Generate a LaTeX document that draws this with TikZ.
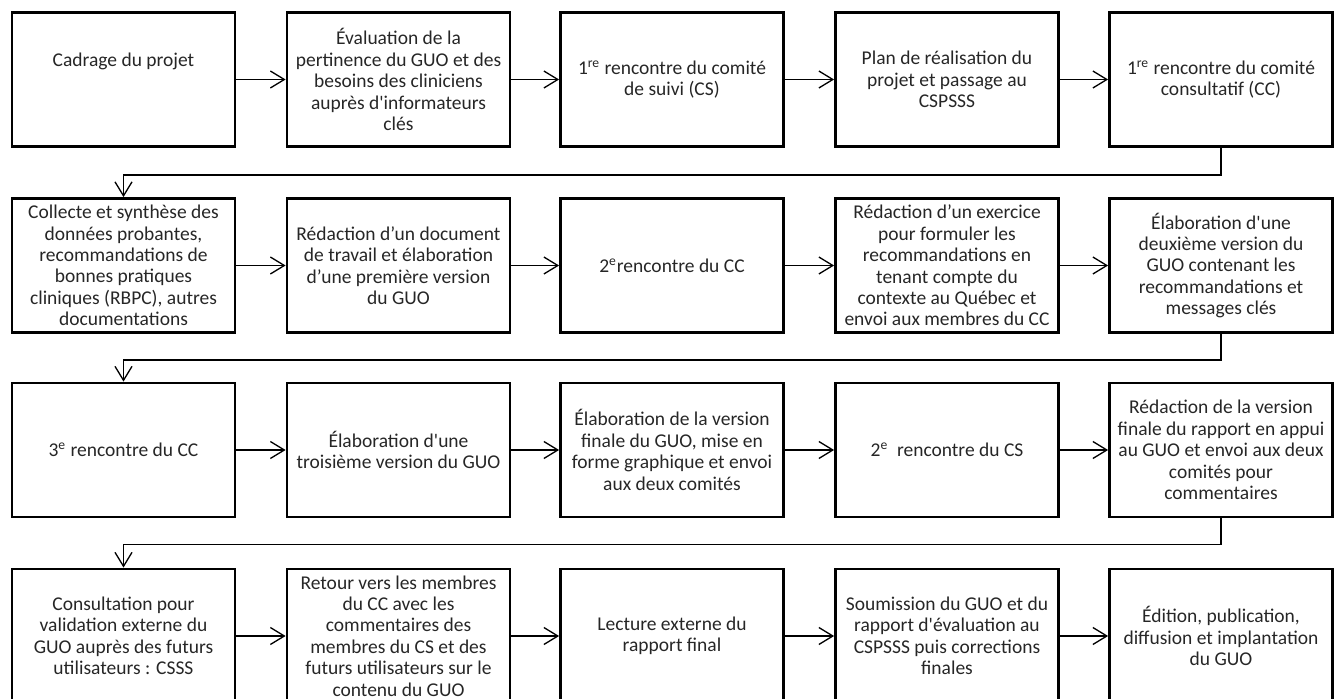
\documentclass[tikz,border=0pt]{standalone}
\usepackage{fontspec}
\setmainfont{Carlito}
\usetikzlibrary{arrows.meta}

\begin{document}
\begin{tikzpicture}[x=0.02cm,y=-0.02cm,
  etape/.style={draw,line width=1.6pt,minimum width=4.46cm,minimum height=2.68cm,
    align=center,inner sep=2pt,text=black!85,
    font=\fontsize{11.1}{12.2}\selectfont},
  fleche/.style={line width=0.75pt,-{Straight Barb[length=2.8mm,width=3.4mm,line width=0.75pt]}}]
  \useasboundingbox (0,0) rectangle (1335,699);

  \draw(123.5,79.5) node[etape] (A1) {Cadrage du projet\\[6.6pt]\strut};
  \draw(398.5,79.5) node[etape] (A2) {Évaluation de la\\ pertinence du GUO et des\\ besoins des cliniciens\\ auprès d\textquotesingle informateurs\\ clés};
  \draw(672,79.5) node[etape] (A3) {1\textsuperscript{re} rencontre du comité\\ de suivi (CS)};
  \draw(947,79.5) node[etape] (A4) {Plan de réalisation du\\ projet et passage au\\ CSPSSS};
  \draw(1221,79.5) node[etape] (A5) {1\textsuperscript{re} rencontre du comité\\ consultatif (CC)};

  \draw(123.5,265.5) node[etape] (B1) {Collecte et synthèse des\\ données probantes,\\ recommandations de\\ bonnes pratiques\\ cliniques (RBPC), autres\\ documentations};
  \draw(398.5,265.5) node[etape] (B2) {Rédaction d’un document\\ de travail et élaboration\\ d’une première version\\ du GUO};
  \draw(672,265.5) node[etape] (B3) {2\textsuperscript{e}rencontre du CC};
  \draw(947,265.5) node[etape] (B4) {Rédaction d’un exercice\\ pour formuler les\\ recommandations en\\ tenant compte du\\ contexte au Québec et\\ envoi aux membres du CC};
  \draw(1221,265.5) node[etape] (B5) {Élaboration d\textquotesingle une\\ deuxième version du\\ GUO contenant les\\ recommandations et\\ messages clés};

  \draw(123.5,450) node[etape] (C1) {3\textsuperscript{e} rencontre du CC};
  \draw(398.5,450) node[etape] (C2) {Élaboration d\textquotesingle une\\ troisième version du GUO};
  \draw(672,450) node[etape] (C3) {Élaboration de la version\\ finale du GUO, mise en\\ forme graphique et envoi\\ aux deux comités};
  \draw(947,450) node[etape] (C4) {2\textsuperscript{e}\ \ rencontre du CS};
  \draw(1221,450) node[etape] (C5) {Rédaction de la version\\ finale du rapport en appui\\ au GUO et envoi aux deux\\ comités pour\\ commentaires};

  \draw(123.5,636) node[etape] (D1) {Consultation pour\\ validation externe du\\ GUO auprès des futurs\\ utilisateurs : CSSS};
  \draw(398.5,636) node[etape] (D2) {Retour vers les membres\\ du CC avec les\\ commentaires des\\ membres du CS et des\\ futurs utilisateurs sur le\\ contenu du GUO};
  \draw(672,636) node[etape] (D3) {Lecture externe du\\ rapport final};
  \draw(947,636) node[etape] (D4) {Soumission du GUO et du\\ rapport d\textquotesingle évaluation au\\ CSPSSS puis corrections\\ finales};
  \draw(1221,636) node[etape] (D5) {Édition, publication,\\ diffusion et implantation\\ du GUO};

  \draw[fleche] (A1) -- (A2);
  \draw[fleche] (A2) -- (A3);
  \draw[fleche] (A3) -- (A4);
  \draw[fleche] (A4) -- (A5);
  \draw[fleche] (A5.south) -- ++(0,27) -| (B1.north);

  \draw[fleche] (B1) -- (B2);
  \draw[fleche] (B2) -- (B3);
  \draw[fleche] (B3) -- (B4);
  \draw[fleche] (B4) -- (B5);
  \draw[fleche] (B5.south) -- ++(0,26) -| (C1.north);

  \draw[fleche] (C1) -- (C2);
  \draw[fleche] (C2) -- (C3);
  \draw[fleche] (C3) -- (C4);
  \draw[fleche] (C4) -- (C5);
  \draw[fleche] (C5.south) -- ++(0,26) -| (D1.north);

  \draw[fleche] (D1) -- (D2);
  \draw[fleche] (D2) -- (D3);
  \draw[fleche] (D3) -- (D4);
  \draw[fleche] (D4) -- (D5);
\end{tikzpicture}
\end{document}
